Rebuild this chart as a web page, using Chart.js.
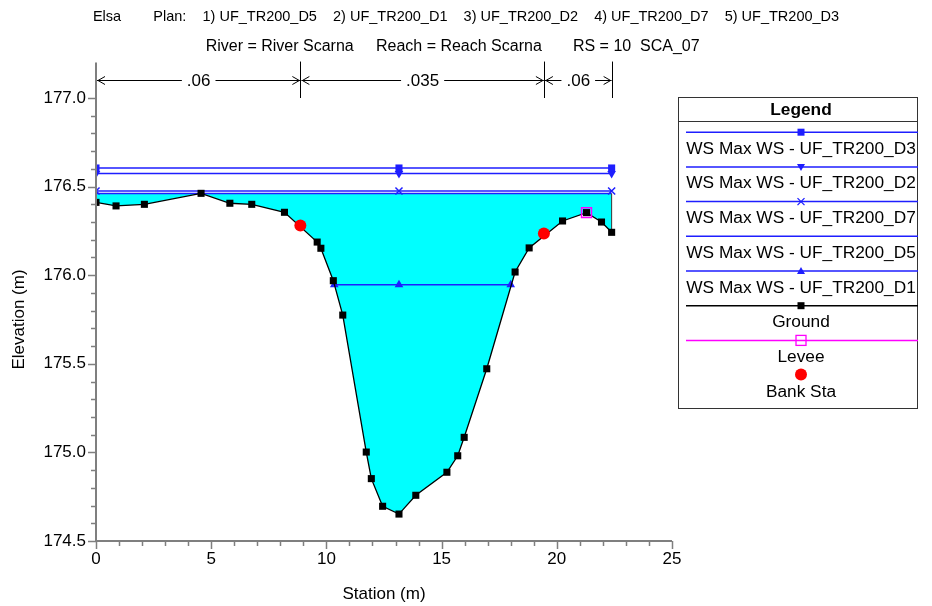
<!DOCTYPE html>
<html><head><meta charset="utf-8">
<script src="https://cdn.jsdelivr.net/npm/chart.js@4.4.1/dist/chart.umd.min.js"></script>
<style>
html,body{margin:0;padding:0;background:#fff;}
#wrap{position:relative;width:932px;height:606px;overflow:hidden;}
#c{position:absolute;left:0;top:0;}
#legend{position:absolute;left:678px;top:97px;width:240px;height:312px;border:1px solid #333;box-sizing:border-box;font-family:"Liberation Sans",Arial,sans-serif;color:#000;}
#legend svg{position:absolute;left:-1px;top:-1px;}
#legend .t{position:absolute;left:3px;width:238px;text-align:center;font-size:17.3px;line-height:20px;white-space:nowrap;}
</style></head>
<body><div id="wrap"><canvas id="c" width="932" height="606"></canvas><div id="legend"></div></div>
<script>
const FONT = '"Liberation Sans", Arial, sans-serif';

// ---- data ----
const groundStation = [0, 0.87, 2.10, 4.56, 5.81, 6.76, 8.18, 9.60, 9.76, 10.30, 10.71, 11.73, 11.95, 12.44, 13.15, 13.88, 15.23, 15.70, 15.98, 16.96, 18.19, 18.80, 20.25, 21.29, 21.94, 22.38];
const groundElev    = [176.411, 176.391, 176.400, 176.462, 176.406, 176.400, 176.355, 176.187, 176.152, 175.969, 175.775, 175.002, 174.852, 174.696, 174.652, 174.758, 174.888, 174.981, 175.085, 175.472, 176.018, 176.154, 176.306, 176.353, 176.300, 176.242];
const bankStation = [8.87, 19.44];
const bankElev    = [176.28, 176.235];
const leveeStation = [21.29];
const leveeElev    = [176.353];
const wsPlans    = ['UF_TR200_D3', 'UF_TR200_D2', 'UF_TR200_D7', 'UF_TR200_D5', 'UF_TR200_D1'];
const wsElev     = [176.605, 176.574, 176.475, 176.461, 175.946];
const wsStations = [[0, 13.15, 22.38], [0, 13.15, 22.38], [0, 13.15, 22.38], [0, 22.38], [10.34, 13.15, 18.0]];
const mannN      = ['.06', '.035', '.06'];
const mannBreaks = [0, 8.87, 19.44, 22.38];
const xTickLabels = [0, 5, 10, 15, 20, 25];
const yTickLabels = [174.5, 175.0, 175.5, 176.0, 176.5, 177.0];
const titleLine1 = 'Elsa        Plan:    1) UF_TR200_D5    2) UF_TR200_D1    3) UF_TR200_D2    4) UF_TR200_D7    5) UF_TR200_D3';
const titleLine2 = 'River = River Scarna     Reach = Reach Scarna       RS = 10  SCA_07      ';

// ---- styles ----
const WSCOL = 'rgb(30,30,255)';
const wsMarker = [
  {style: 'rect', radius: 5, rot: 0},
  {style: 'triangle', radius: 5, rot: 180},
  {style: 'crossRot', radius: 5, rot: 0},
  {style: false, radius: 0, rot: 0},
  {style: 'triangle', radius: 5, rot: 0}
];

const pts = (xs, ys) => xs.map((x, i) => ({x, y: ys[i]}));
const ground = pts(groundStation, groundElev);
const D5 = wsElev[wsPlans.indexOf('UF_TR200_D5')];

const datasets = [];
datasets.push({label: 'fill', data: ground, fill: {value: D5}, backgroundColor: '#00ffff',
  borderWidth: 0, borderColor: 'rgba(0,0,0,0)', pointRadius: 0, order: 20});
wsPlans.forEach((p, i) => {
  const m = wsMarker[i];
  datasets.push({label: 'WS Max WS - ' + p, data: wsStations[i].map(s => ({x: s, y: wsElev[i]})),
    borderColor: WSCOL, borderWidth: 1.6, backgroundColor: WSCOL, fill: false,
    pointStyle: m.style || 'circle', pointRadius: m.radius, pointRotation: m.rot,
    pointBorderColor: WSCOL, pointBackgroundColor: WSCOL, pointBorderWidth: m.style === 'crossRot' ? 1.5 : 0,
    order: 10 + i});
});
datasets.push({label: 'edge', data: [{x: groundStation[groundStation.length - 1], y: groundElev[groundElev.length - 1]}, {x: groundStation[groundStation.length - 1], y: D5}],
  borderColor: '#333', borderWidth: 1, pointRadius: 0, fill: false, order: 5});
datasets.push({label: 'Ground', data: ground, borderColor: '#000', borderWidth: 1.3, fill: false,
  pointStyle: 'rect', pointRadius: 5, pointBackgroundColor: '#000', pointBorderWidth: 0, order: 3});
datasets.push({label: 'Levee', data: pts(leveeStation, leveeElev), showLine: false, fill: false,
  pointStyle: 'rect', pointRadius: 7, pointBackgroundColor: 'rgba(0,0,0,0)', pointBorderColor: '#ff00ff', pointBorderWidth: 1.5, order: 2});
datasets.push({label: 'Bank Sta', data: pts(bankStation, bankElev), showLine: false, fill: false,
  pointStyle: 'circle', pointRadius: 6, pointBackgroundColor: '#ff0000', pointBorderWidth: 0, order: 1});

const decor = {
  id: 'decor',
  afterDraw(chart) {
    const {ctx, scales: {x, y}, chartArea: a} = chart;
    ctx.save();
    const top = y.getPixelForValue(177.2);
    ctx.strokeStyle = '#7f7f7f';
    ctx.lineWidth = 2;
    ctx.beginPath();
    ctx.moveTo(a.left - 1, a.bottom); ctx.lineTo(a.right, a.bottom);
    ctx.moveTo(a.left, a.bottom + 1); ctx.lineTo(a.left, top);
    ctx.stroke();
    ctx.lineWidth = 1.5;
    ctx.beginPath();
    for (let v = 0; v <= 25; v++) {
      const px = Math.round(x.getPixelForValue(v)) + 0.5;
      const L = v % 5 === 0 ? 8 : 5;
      ctx.moveTo(px, a.bottom); ctx.lineTo(px, a.bottom + L);
    }
    for (let k = 0; k <= 25; k++) {
      const v = 174.5 + k * 0.1;
      const py = Math.round(y.getPixelForValue(v)) + 0.5;
      const L = k % 5 === 0 ? 8 : 5;
      ctx.moveTo(a.left, py); ctx.lineTo(a.left - L, py);
    }
    ctx.stroke();

    // Manning's n dimension line
    const yy = Math.round(y.getPixelForValue(177.1)) + 0.5;
    const yTop = y.getPixelForValue(177.2) - 1;
    const yBot = y.getPixelForValue(177.0);
    ctx.strokeStyle = '#000';
    ctx.fillStyle = '#000';
    ctx.lineWidth = 1;
    ctx.font = '17px ' + FONT;
    ctx.textAlign = 'center';
    ctx.textBaseline = 'middle';
    const bx = mannBreaks.map(s => x.getPixelForValue(s));
    ctx.beginPath();
    for (let i = 1; i < bx.length; i++) {
      const p = Math.round(bx[i]) + 0.5;
      ctx.moveTo(p, yTop); ctx.lineTo(p, yBot);
    }
    ctx.stroke();
    for (let i = 0; i < mannN.length; i++) {
      const l = bx[i] + 1, r = bx[i + 1];
      const cx = (l + r) / 2;
      const tw = ctx.measureText(mannN[i]).width;
      ctx.beginPath();
      ctx.moveTo(l, yy); ctx.lineTo(cx - tw / 2 - 5, yy);
      ctx.moveTo(cx + tw / 2 + 5, yy); ctx.lineTo(r, yy);
      ctx.moveTo(l + 8, yy - 4); ctx.lineTo(l + 1, yy); ctx.lineTo(l + 8, yy + 4);
      ctx.moveTo(r - 8, yy - 4); ctx.lineTo(r - 1, yy); ctx.lineTo(r - 8, yy + 4);
      ctx.stroke();
      ctx.fillText(mannN[i], cx, yy + 1);
    }
    ctx.restore();
  }
};

new Chart(document.getElementById('c'), {
  type: 'line',
  data: {datasets},
  plugins: [decor],
  options: {
    responsive: false,
    devicePixelRatio: 1,
    animation: false,
    events: [],
    layout: {padding: 0},
    plugins: {
      legend: {display: false},
      tooltip: {enabled: false},
      filler: {drawTime: 'beforeDatasetsDraw'},
      title: {display: true, text: titleLine1, color: '#000', font: {family: FONT, size: 14.5, weight: 'normal', lineHeight: 1.2}, padding: {top: 8.5, bottom: 0}},
      subtitle: {display: true, text: titleLine2, color: '#000', font: {family: FONT, size: 16, weight: 'normal', lineHeight: 1.2}, padding: {top: 11.5, bottom: 41.4}}
    },
    scales: {
      x: {
        type: 'linear', min: 0, max: 25,
        grid: {display: false, drawTicks: false},
        border: {display: false},
        afterFit: s => { s.height = 65; },
        afterBuildTicks: s => { s.ticks = xTickLabels.map(v => ({value: v})); },
        ticks: {color: '#000', font: {family: FONT, size: 17}, padding: 8, autoSkip: false, maxRotation: 0, callback: v => String(v)},
        title: {display: true, text: 'Station (m)', color: '#000', font: {family: FONT, size: 17}, padding: {top: 0, bottom: 1}}
      },
      y: {
        type: 'linear', min: 174.5, max: 177.0,
        grid: {display: false, drawTicks: false},
        border: {display: false},
        afterFit: s => { s.width = 96; },
        afterBuildTicks: s => { s.ticks = yTickLabels.map(v => ({value: v})); },
        ticks: {color: '#000', font: {family: FONT, size: 17}, padding: 10, autoSkip: false, callback: v => Number(v).toFixed(1)},
        title: {display: true, text: 'Elevation (m)', color: '#000', font: {family: FONT, size: 17}, padding: {top: 9, bottom: 0}}
      },
      legendSpace: {
        type: 'linear', position: 'right', axis: 'y', min: 0, max: 1,
        grid: {display: false, drawTicks: false},
        border: {display: false},
        ticks: {display: false},
        afterFit: s => { s.width = 260; }
      }
    }
  }
});

// ---- legend ----
(function buildLegend() {
  const box = document.getElementById('legend');
  const NS = 'http://www.w3.org/2000/svg';
  const svg = document.createElementNS(NS, 'svg');
  svg.setAttribute('width', 240); svg.setAttribute('height', 312);
  box.appendChild(svg);
  const el = (tag, attrs) => { const e = document.createElementNS(NS, tag); for (const k in attrs) e.setAttribute(k, attrs[k]); svg.appendChild(e); return e; };
  const text = (str, cy, bold) => { const d = document.createElement('div'); d.className = 't'; d.textContent = str; d.style.top = (cy - 10 - 1) + 'px'; if (bold) d.style.fontWeight = 'bold'; box.appendChild(d); };
  const mx = 123, step = 34.7;
  text('Legend', 11.5, true);
  el('line', {x1: 0, x2: 240, y1: 24.5, y2: 24.5, stroke: '#333', 'stroke-width': 1});
  const items = wsPlans.map((p, i) => ({label: 'WS Max WS - ' + p, kind: ['sq', 'dtri', 'x', 'none', 'utri'][i], color: WSCOL}));
  items.push({label: 'Ground', kind: 'gsq', color: '#000'});
  items.push({label: 'Levee', kind: 'osq', color: '#ff00ff'});
  items.push({label: 'Bank Sta', kind: 'dot', color: '#ff0000'});
  items.forEach((it, k) => {
    const ly = step * (k + 1) + 0.5;
    if (it.kind !== 'dot') el('line', {x1: 8, x2: 240, y1: ly, y2: ly, stroke: it.color, 'stroke-width': 1.5});
    const c = it.color;
    switch (it.kind) {
      case 'sq': el('rect', {x: mx - 3.5, y: ly - 3.5, width: 7, height: 7, fill: c}); break;
      case 'gsq': el('rect', {x: mx - 3.5, y: ly - 3.5, width: 7, height: 7, fill: c}); break;
      case 'dtri': el('polygon', {points: `${mx - 4},${ly - 3} ${mx + 4},${ly - 3} ${mx},${ly + 4}`, fill: c}); break;
      case 'utri': el('polygon', {points: `${mx - 4},${ly + 3} ${mx + 4},${ly + 3} ${mx},${ly - 4}`, fill: c}); break;
      case 'x': el('path', {d: `M${mx - 3.5},${ly - 3.5}L${mx + 3.5},${ly + 3.5}M${mx - 3.5},${ly + 3.5}L${mx + 3.5},${ly - 3.5}`, stroke: c, 'stroke-width': 1.3}); break;
      case 'osq': el('rect', {x: mx - 5, y: ly - 5, width: 10, height: 10, fill: 'none', stroke: c, 'stroke-width': 1.3}); break;
      case 'dot': el('circle', {cx: mx, cy: ly - 0.5, r: 6, fill: c}); break;
    }
    text(it.label, ly + 15.5, false);
  });
})();
</script>
</body></html>
